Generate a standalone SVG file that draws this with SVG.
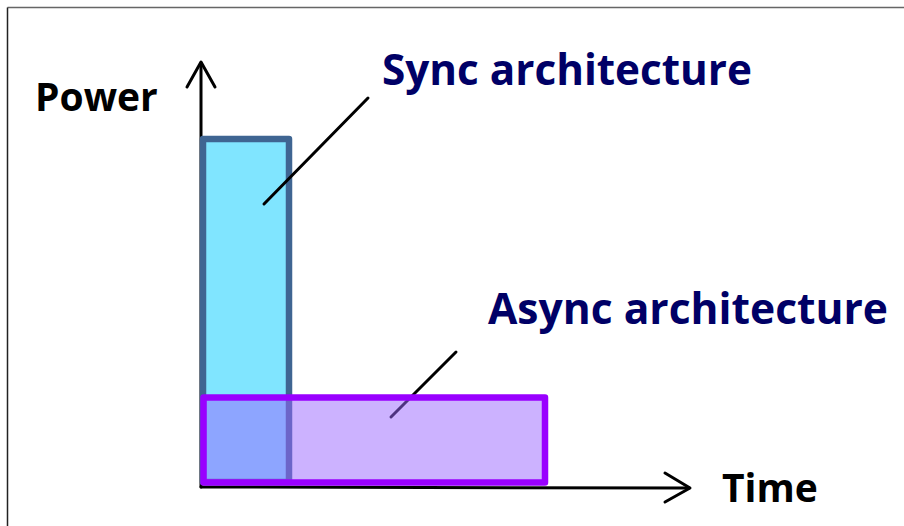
<svg xmlns="http://www.w3.org/2000/svg" width="904" height="526" viewBox="0 0 904 526">
  <defs>
    <style>
      .axis { stroke: #000; stroke-width: 3; fill: none; stroke-linecap: round; stroke-linejoin: round; }
      .leader { stroke: #000; stroke-width: 3; stroke-linecap: round; }
      .axis-label { font-family: "Open Sans", "Noto Sans", sans-serif; font-weight: bold; font-size: 39px; fill: #000; }
      .callout { font-family: "Open Sans", "Noto Sans", sans-serif; font-weight: bold; font-size: 42.5px; fill: #000066; }
    </style>
  </defs>
  <rect x="0" y="0" width="904" height="526" fill="#fff"/>
  <!-- frame edges -->
  <line x1="7.5" y1="7.5" x2="904" y2="7.5" stroke="#666" stroke-width="1.5"/>
  <line x1="7.5" y1="7.5" x2="7.5" y2="526" stroke="#222" stroke-width="1.5"/>

  <!-- axes -->
  <g id="axes">
    <line class="axis" x1="201" y1="487" x2="201" y2="63"/>
    <polyline class="axis" points="187,87 201,62 215,87"/>
    <line class="axis" x1="201" y1="487" x2="689" y2="488"/>
    <polyline class="axis" points="665,473 690,488 665,502"/>
    <text class="axis-label" x="35" y="111">Power</text>
    <text class="axis-label" x="722" y="502">Time</text>
  </g>

  <!-- sync bar -->
  <g id="sync">
    <rect x="203" y="139" width="86" height="343" fill="#80E5FF" stroke="#3F6592" stroke-width="6.5" stroke-linejoin="round"/>
  </g>

  <!-- connectors (callout leaders); the async bar is drawn over them -->
  <g id="connectors">
    <line class="leader" x1="368" y1="98" x2="264" y2="204"/>
    <line class="leader" x1="456" y1="352" x2="391" y2="417"/>
  </g>

  <!-- async bar, translucent over the sync bar -->
  <g id="async">
    <rect x="203.5" y="397.5" width="341.5" height="85" fill="#9966FF" fill-opacity="0.5" stroke="#9900FF" stroke-width="6.5" stroke-linejoin="round"/>
  </g>

  <g id="label-sync">
    <text class="callout" x="382" y="85" textLength="370" lengthAdjust="spacingAndGlyphs">Sync architecture</text>
  </g>
  <g id="label-async">
    <text class="callout" x="488" y="324" textLength="400" lengthAdjust="spacingAndGlyphs">Async architecture</text>
  </g>
</svg>
